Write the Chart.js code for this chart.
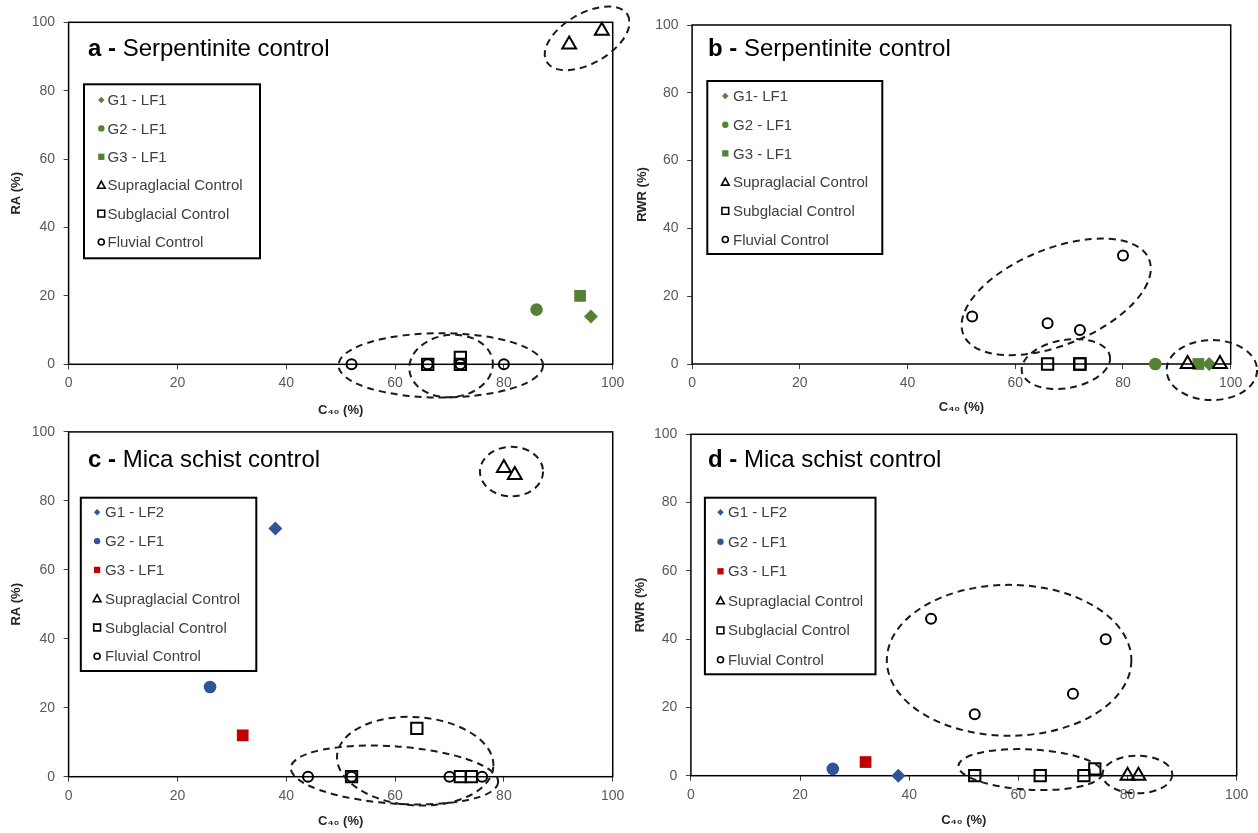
<!DOCTYPE html>
<html>
<head>
<meta charset="utf-8">
<script src="https://cdn.jsdelivr.net/npm/chart.js@4.4.0/dist/chart.umd.min.js"></script>
<style>
  html, body { margin: 0; padding: 0; background: #fff; }
  #wrap { position: relative; width: 1258px; height: 833px; overflow: hidden; }
  #wrap canvas { position: absolute; }
</style>
</head>
<body>
<div id="wrap">
  <canvas id="chartA" width="630" height="420" style="left:0;top:0"></canvas>
  <canvas id="chartB" width="628" height="420" style="left:630px;top:0"></canvas>
  <canvas id="chartC" width="630" height="418" style="left:0;top:415px"></canvas>
  <canvas id="chartD" width="628" height="418" style="left:630px;top:415px"></canvas>
</div>
<script>
// axis ticks shared by every panel
const axisTicks = [0, 20, 40, 60, 80, 100];

// series labels
const namesA = ["G1 - LF1", "G2 - LF1", "G3 - LF1", "Supraglacial Control", "Subglacial Control", "Fluvial Control"];
const namesB = ["G1- LF1", "G2 - LF1", "G3 - LF1", "Supraglacial Control", "Subglacial Control", "Fluvial Control"];
const namesCD = ["G1 - LF2", "G2 - LF1", "G3 - LF1", "Supraglacial Control", "Subglacial Control", "Fluvial Control"];

// a - Serpentinite control, RA vs C40  ([C40, RA])
const aG1 = [[96, 14]];
const aG2 = [[86, 16]];
const aG3 = [[94, 20]];
const aSupra = [[92, 93.5], [98, 97.5]];
const aSub = [[66, 0], [72, 2], [72, 0]];
const aFluv = [[52, 0], [66, 0], [72, 0], [80, 0]];

// b - Serpentinite control, RWR vs C40
const bG1 = [[96, 0]];
const bG2 = [[86, 0]];
const bG3 = [[94, 0]];
const bSupra = [[92, 0], [98, 0]];
const bSub = [[66, 0], [72, 0], [72, 0]];
const bFluv = [[52, 14], [66, 12], [72, 10], [80, 32]];

// c - Mica schist control, RA vs C40
const cG1 = [[38, 72]];
const cG2 = [[26, 26]];
const cG3 = [[32, 12]];
const cSupra = [[80, 89.5], [82, 87.5]];
const cSub = [[52, 0], [64, 14], [72, 0], [74, 0]];
const cFluv = [[44, 0], [52, 0], [70, 0], [76, 0]];

// d - Mica schist control, RWR vs C40
const dG1 = [[38, 0]];
const dG2 = [[26, 2]];
const dG3 = [[32, 4]];
const dSupra = [[80, 0], [82, 0]];
const dSub = [[52, 0], [64, 0], [72, 0], [74, 2]];
const dFluv = [[44, 46], [52, 18], [70, 24], [76, 40]];

const GREEN = "#548235", BLUE = "#2F5597", RED = "#C00000";
const styles = ["rectRot", "circle", "rect", "triangle", "rect", "circle"];
const radii = [7, 6.3, 8.3, 8, 8, 5];
const legendRadii = [3.2, 3.2, 4.2, 4, 4.5, 3];

// dashed groupings: [cx, cy, rx, ry, rotation deg] in data units
const panels = [
  { id: "chartA", letter: "a", title: "Serpentinite control", yTitle: "RA (%)",
    names: namesA, colors: [GREEN, GREEN, GREEN],
    series: [aG1, aG2, aG3, aSupra, aSub, aFluv],
    pad: { top: 22.3, right: 17 }, yWidth: 68.6, xHeight: 55.7, yTitlePad: 8.5, xTitlePad: 2.2,
    titlePos: [88, 56],
    legend: { x: 84, y: 84.3, w: 176, h: 174, row: 100, gap: 28.4, mx: 101.3, tx: 107.5 },
    ellipses: [[95.3, 95.3, 8.6, 7.3, -30], [68.4, -0.3, 18.8, 9.4, 0], [70.3, -0.5, 7.7, 9.1, -6]] },
  { id: "chartB", letter: "b", title: "Serpentinite control", yTitle: "RWR (%)",
    names: namesB, colors: [GREEN, GREEN, GREEN],
    series: [bG1, bG2, bG3, bSupra, bSub, bFluv],
    pad: { top: 25, right: 27.3 }, yWidth: 62.1, xHeight: 56, yTitlePad: 4.2, xTitlePad: 4.9,
    titlePos: [78, 56],
    legend: { x: 77.3, y: 81, w: 175, h: 173, row: 96, gap: 28.7, mx: 95.3, tx: 103 },
    ellipses: [[67.6, 19.8, 18.6, 14.2, -22], [69.4, 0, 8.3, 7.1, -10], [96.5, -1.8, 8.4, 8.85, 0]] },
  { id: "chartC", letter: "c", title: "Mica schist control", yTitle: "RA (%)",
    names: namesCD, colors: [BLUE, BLUE, RED],
    series: [cG1, cG2, cG3, cSupra, cSub, cFluv],
    pad: { top: 16.7, right: 13.7 }, yWidth: 68.6, xHeight: 56.3, yTitlePad: 8.5, xTitlePad: 3.5,
    titlePos: [88, 51.7],
    legend: { x: 80.8, y: 82.7, w: 175.5, h: 173.3, row: 97.3, gap: 28.8, mx: 97.1, tx: 105 },
    ellipses: [[81.4, 88.5, 5.8, 7.2, 0], [63.7, 4.5, 14.4, 12.8, 4], [59.9, 0.5, 19.1, 8.3, 4]] },
  { id: "chartD", letter: "d", title: "Mica schist control", yTitle: "RWR (%)",
    names: namesCD, colors: [BLUE, BLUE, RED],
    series: [dG1, dG2, dG3, dSupra, dSub, dFluv],
    pad: { top: 19.3, right: 21.3 }, yWidth: 60.9, xHeight: 57.3, yTitlePad: 2.2, xTitlePad: 5.2,
    titlePos: [78, 51.7],
    legend: { x: 74.9, y: 82.7, w: 170.6, h: 176.6, row: 97.3, gap: 29.5, mx: 90.5, tx: 98 },
    ellipses: [[58.3, 33.8, 22.4, 22.1, 0], [62.2, 1.8, 13.2, 5.9, 3], [81.8, 0.35, 6.4, 5.5, 0]] }
];

function toPoints(arr) { return arr.map(p => ({ x: p[0], y: p[1] })); }

function marker(ctx, style, x, y, r) {
  ctx.beginPath();
  if (style === "circle") {
    ctx.arc(x, y, r, 0, Math.PI * 2);
  } else if (style === "rect") {
    ctx.rect(x - r * 0.75, y - r * 0.75, r * 1.5, r * 1.5);
  } else if (style === "rectRot") {
    ctx.moveTo(x, y - r); ctx.lineTo(x + r, y); ctx.lineTo(x, y + r); ctx.lineTo(x - r, y);
    ctx.closePath();
  } else {
    ctx.moveTo(x, y - r); ctx.lineTo(x + r * 0.95, y + r * 0.75); ctx.lineTo(x - r * 0.95, y + r * 0.75);
    ctx.closePath();
  }
}

const framePlugin = {
  id: "frame",
  beforeDatasetsDraw(chart) {
    const { ctx, chartArea: a } = chart;
    ctx.save();
    ctx.strokeStyle = "#000";
    ctx.lineWidth = 1.5;
    ctx.strokeRect(a.left, a.top, a.right - a.left, a.bottom - a.top);
    ctx.restore();
  }
};

const ellipsePlugin = {
  id: "groups",
  afterDatasetsDraw(chart, args, opts) {
    const { ctx, scales: { x, y } } = chart;
    ctx.save();
    ctx.strokeStyle = "#1a1a1a";
    ctx.lineWidth = 2;
    ctx.setLineDash([7, 5]);
    opts.list.forEach(e => {
      const cx = x.getPixelForValue(e[0]);
      const cy = y.getPixelForValue(e[1]);
      const rx = Math.abs(x.getPixelForValue(e[0] + e[2]) - cx);
      const ry = Math.abs(y.getPixelForValue(e[1] + e[3]) - cy);
      ctx.beginPath();
      ctx.ellipse(cx, cy, rx, ry, e[4] * Math.PI / 180, 0, Math.PI * 2);
      ctx.stroke();
    });
    ctx.restore();
  }
};

const boxLegendPlugin = {
  id: "boxLegend",
  afterDraw(chart, args, opts) {
    const { ctx } = chart;
    const L = opts.box;
    ctx.save();
    ctx.fillStyle = "#fff";
    ctx.fillRect(L.x, L.y, L.w, L.h);
    ctx.strokeStyle = "#000";
    ctx.lineWidth = 2;
    ctx.strokeRect(L.x, L.y, L.w, L.h);
    ctx.font = "15px 'Liberation Sans', Arial, sans-serif";
    ctx.textBaseline = "middle";
    chart.data.datasets.forEach((ds, i) => {
      const yy = L.row + i * L.gap;
      marker(ctx, styles[i], L.mx, yy, legendRadii[i]);
      if (i < 3) {
        ctx.fillStyle = ds.pointBackgroundColor;
        ctx.fill();
      } else {
        ctx.strokeStyle = "#000";
        ctx.lineWidth = 1.6;
        ctx.stroke();
      }
      ctx.fillStyle = "#404040";
      ctx.fillText(ds.label, L.tx, yy + 1);
    });
    ctx.restore();
  }
};

const panelTitlePlugin = {
  id: "panelTitle",
  afterDraw(chart, args, opts) {
    const { ctx } = chart;
    ctx.save();
    ctx.fillStyle = "#000";
    ctx.textBaseline = "alphabetic";
    ctx.font = "bold 24px 'Liberation Sans', Arial, sans-serif";
    const lead = opts.letter + " - ";
    ctx.fillText(lead, opts.x, opts.y);
    const w = ctx.measureText(lead).width;
    ctx.font = "24px 'Liberation Sans', Arial, sans-serif";
    ctx.fillText(opts.text, opts.x + w, opts.y);
    ctx.restore();
  }
};

function axis(p, isX) {
  return {
    type: "linear",
    min: 0,
    max: 100,
    afterBuildTicks: s => { s.ticks = axisTicks.map(v => ({ value: v })); },
    afterFit: s => { if (isX) s.height = p.xHeight; else s.width = p.yWidth; },
    grid: { drawOnChartArea: false, drawTicks: true, tickLength: 5, color: "#404040", lineWidth: 1 },
    border: { display: false },
    ticks: {
      color: "#595959",
      font: { family: "'Liberation Sans', Arial, sans-serif", size: 14 },
      padding: isX ? 5.6 : 8.5
    },
    title: {
      display: true,
      text: isX ? "C₄₀ (%)" : p.yTitle,
      color: "#262626",
      font: { family: "'Liberation Sans', Arial, sans-serif", size: 13, weight: "bold" },
      padding: isX ? { top: 0, bottom: p.xTitlePad } : { top: p.yTitlePad, bottom: 0 }
    }
  };
}

panels.forEach(p => {
  const datasets = p.series.map((s, i) => {
    const filled = i < 3;
    return {
      label: p.names[i],
      data: toPoints(s),
      pointStyle: styles[i],
      pointRadius: radii[i],
      pointHoverRadius: radii[i],
      pointBackgroundColor: filled ? p.colors[i] : "rgba(0,0,0,0)",
      pointBorderColor: filled ? p.colors[i] : "#000",
      pointBorderWidth: filled ? 0 : 2,
      showLine: false,
      clip: false,
      order: -i
    };
  });

  new Chart(document.getElementById(p.id), {
    type: "scatter",
    data: { datasets: datasets },
    options: {
      responsive: false,
      animation: false,
      events: [],
      layout: { padding: { left: 0, top: p.pad.top, right: p.pad.right, bottom: 0 } },
      scales: { x: axis(p, true), y: axis(p, false) },
      plugins: {
        legend: { display: false },
        tooltip: { enabled: false },
        groups: { list: p.ellipses },
        boxLegend: { box: p.legend },
        panelTitle: { letter: p.letter, text: p.title, x: p.titlePos[0], y: p.titlePos[1] }
      }
    },
    plugins: [framePlugin, ellipsePlugin, boxLegendPlugin, panelTitlePlugin]
  });
});
</script>
</body>
</html>
